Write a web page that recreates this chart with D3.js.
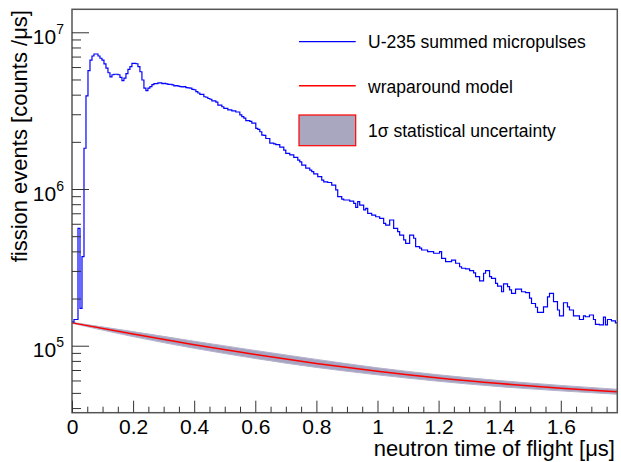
<!DOCTYPE html>
<html>
<head>
<meta charset="utf-8">
<script src="https://cdn.jsdelivr.net/npm/d3@7"></script>
<style>
  html, body { margin: 0; padding: 0; background: #fff; }
  svg { display: block; font-family: "Liberation Sans", Arial, Helvetica, sans-serif; }
</style>
</head>
<body>
<svg id="chart" width="621" height="462"></svg>
<script>
// ---------------- DATA ----------------
// Histogram: U-235 summed micropulses, counts/µs per bin (bin width in µs)
const binWidth = 0.00654;
const counts = [
  1.42e5, 1.47e5, 1.47e5, 5.6e5, 1.73e5, 3.7e5, 1.82e6, 3.93e6, 5.69e6, 6.65e6,
  7.06e6, 7.27e6, 7.27e6, 7.06e6, 6.83e6, 6.65e6, 6.28e6, 5.9e6, 5.52e6, 5.2e6,
  5.36e6, 5.4e6, 5.4e6, 5.36e6, 5.15e6, 4.91e6, 5.1e6, 5.45e6, 5.8e6, 6.03e6,
  6.34e6, 6.34e6, 6.3e6, 6.03e6, 5.6e6, 4.96e6, 4.4e6, 4.24e6, 4.4e6, 4.5e6,
  4.63e6, 4.7e6, 4.7e6, 4.75e6, 4.75e6, 4.7e6, 4.72e6, 4.68e6, 4.65e6, 4.66e6,
  4.62e6, 4.55e6, 4.57e6, 4.53e6, 4.5e6, 4.48e6, 4.5e6, 4.43e6, 4.42e6, 4.4e6,
  4.32e6, 4.3e6, 4.18e6, 4.1e6, 4.02e6, 4.02e6, 3.88e6, 3.85e6, 3.78e6, 3.74e6,
  3.65e6, 3.65e6, 3.58e6, 3.43e6, 3.43e6, 3.35e6, 3.27e6, 3.27e6, 3.2e6, 3.2e6,
  3.15e6, 3.15e6, 3.1e6, 3.1e6, 2.97e6, 2.9e6, 2.83e6, 2.73e6, 2.73e6, 2.7e6,
  2.63e6, 2.63e6, 2.44e6, 2.4e6, 2.32e6, 2.21e6, 2.2e6, 2.1e6, 2.1e6, 1.96e6,
  1.96e6, 1.94e6, 1.92e6, 1.92e6, 1.85e6, 1.85e6, 1.77e6, 1.69e6, 1.69e6, 1.65e6,
  1.65e6, 1.59e6, 1.59e6, 1.53e6, 1.49e6, 1.42e6, 1.42e6, 1.36e6, 1.36e6, 1.32e6,
  1.29e6, 1.25e6, 1.25e6, 1.2e6, 1.2e6, 1.14e6, 1.11e6, 1.11e6, 1.1e6, 1.1e6,
  1.06e6, 1.06e6, 9.86e5, 8.93e5, 8.93e5, 8.63e5, 8.51e5, 8.51e5, 8.51e5, 8.38e5,
  8.38e5, 8.1e5, 7.64e5, 8.3e5, 7.9e5, 7.9e5, 7.35e5, 7.53e5, 7.0e5, 7.0e5,
  6.82e5, 6.82e5, 6.65e5, 6.65e5, 6.5e5, 6.5e5, 6.04e5, 5.89e5, 5.89e5, 6.34e5,
  6.34e5, 5.61e5, 5.61e5, 5.34e5, 5.08e5, 5.08e5, 4.73e5, 4.5e5, 4.5e5, 5.08e5,
  5.08e5, 4.85e5, 4.29e5, 4.29e5, 4.19e5, 4.08e5, 4.08e5, 4.08e5, 3.98e5, 3.98e5,
  3.98e5, 3.89e5, 3.89e5, 3.89e5, 3.98e5, 3.61e5, 3.61e5, 3.44e5, 3.44e5, 3.44e5,
  3.52e5, 3.52e5, 3.36e5, 3.36e5, 3.19e5, 3.12e5, 3.12e5, 3.09e5, 3.09e5, 3.01e5,
  3.01e5, 2.92e5, 2.76e5, 2.76e5, 2.59e5, 2.59e5, 2.9e5, 3.01e5, 3.01e5, 2.76e5,
  2.69e5, 2.69e5, 2.5e5, 2.4e5, 2.4e5, 2.21e5, 2.48e5, 2.48e5, 2.38e5, 2.27e5,
  2.16e5, 2.16e5, 2.3e5, 2.3e5, 2.3e5, 2.21e5, 2.21e5, 2.18e5, 2.18e5, 2.01e5,
  1.86e5, 1.86e5, 1.76e5, 1.63e5, 1.63e5, 1.63e5, 1.77e5, 1.77e5, 2.05e5, 2.16e5,
  2.16e5, 1.91e5, 1.91e5, 1.69e5, 1.55e5, 1.55e5, 1.88e5, 1.88e5, 1.77e5, 1.69e5,
  1.69e5, 1.55e5, 1.55e5, 1.55e5, 1.47e5, 1.47e5, 1.55e5, 1.53e5, 1.53e5, 1.57e5,
  1.57e5, 1.47e5, 1.37e5, 1.37e5, 1.36e5, 1.36e5, 1.52e5, 1.36e5, 1.47e5, 1.47e5,
  1.44e5, 1.44e5, 1.40e5
];

// Wraparound model and its 1σ band (µs, counts/µs)
const modelT     = [0, 0.2, 0.4, 0.6, 0.8, 1.0, 1.2, 1.4, 1.6, 1.785];
const modelVal   = [1.40e5, 1.186e5, 1.014e5, 8.79e4, 7.71e4, 6.87e4, 6.22e4, 5.73e4, 5.36e4, 5.08e4];
const bandLow    = [1.39e5, 1.143e5, 9.63e4, 8.29e4, 7.27e4, 6.52e4, 5.93e4, 5.48e4, 5.15e4, 4.90e4];
const bandHigh   = [1.41e5, 1.230e5, 1.068e5, 9.32e4, 8.18e4, 7.23e4, 6.52e4, 5.99e4, 5.58e4, 5.27e4];

// Axes
const xDomain = [0, 1.785];
const yDomain = [3.737e4, 1.402e7];
const xMajor = [0, 0.2, 0.4, 0.6, 0.8, 1.0, 1.2, 1.4, 1.6];
const xTickLabels = ["0", "0.2", "0.4", "0.6", "0.8", "1", "1.2", "1.4", "1.6"];
const yMajor = [1e5, 1e6, 1e7];
const yExponents = ["5", "6", "7"];

const legendLabels = ["U-235 summed micropulses", "wraparound model", "1\u03C3 statistical uncertainty"];
const xTitle = "neutron time of flight [\u03BCs]";
const yTitle = "fission events [counts /\u03BCs]";

// ---------------- LAYOUT ----------------
const frame = { left: 72, right: 617.3, top: 9.3, bottom: 412.7 };
const svg = d3.select("#chart");

const x = d3.scaleLinear().domain(xDomain).range([frame.left, frame.right]);
const y = d3.scaleLog().domain(yDomain).range([frame.bottom, frame.top]);

svg.append("defs").append("clipPath").attr("id", "clip")
  .append("rect")
  .attr("x", frame.left).attr("y", frame.top)
  .attr("width", frame.right - frame.left).attr("height", frame.bottom - frame.top);

const plot = svg.append("g").attr("clip-path", "url(#clip)");

// band
const bandData = modelT.map((t, i) => ({ t, lo: bandLow[i], hi: bandHigh[i], v: modelVal[i] }));
plot.append("path")
  .datum(bandData)
  .attr("fill", "#a6a4c0")
  .attr("stroke", "#b4b2cc")
  .attr("stroke-width", 1)
  .attr("d", d3.area()
    .curve(d3.curveMonotoneX)
    .x(d => x(d.t)).y0(d => y(d.lo)).y1(d => y(d.hi)));

// model line
plot.append("path")
  .datum(bandData)
  .attr("fill", "none")
  .attr("stroke", "#ff0000")
  .attr("stroke-width", 1.5)
  .attr("d", d3.line().curve(d3.curveMonotoneX).x(d => x(d.t)).y(d => y(d.v)));

// histogram (step outline)
const steps = [];
counts.forEach((c, i) => {
  steps.push([i * binWidth, c]);
  steps.push([(i + 1) * binWidth, c]);
});
plot.append("path")
  .datum(steps)
  .attr("fill", "none")
  .attr("stroke", "#0000ff")
  .attr("stroke-width", 1.2)
  .attr("d", d3.line().x(d => x(d[0])).y(d => y(d[1])));

// ---------------- AXES ----------------
const axisColor = "#333";
// frame
svg.append("rect")
  .attr("x", frame.left).attr("y", frame.top)
  .attr("width", frame.right - frame.left).attr("height", frame.bottom - frame.top)
  .attr("fill", "none").attr("stroke", "#555").attr("stroke-width", 1.5);

// x minor ticks
const xMinor = d3.range(0, 36).map(k => k * 0.05).filter(v => v <= xDomain[1] && Math.abs(v / 0.2 - Math.round(v / 0.2)) > 1e-6);
const gxm = svg.append("g").attr("transform", `translate(0,${frame.bottom})`)
  .call(d3.axisBottom(x).tickValues(xMinor).tickSize(-6).tickFormat(""));
gxm.select(".domain").remove();
gxm.selectAll("line").attr("stroke", axisColor);

const gx = svg.append("g").attr("transform", `translate(0,${frame.bottom})`)
  .call(d3.axisBottom(x).tickValues(xMajor).tickSize(-12).tickPadding(6.4)
    .tickFormat((d, i) => xTickLabels[i]));
gx.select(".domain").remove();
gx.selectAll("line").attr("stroke", axisColor);
gx.selectAll("text").attr("font-size", 21).attr("fill", "#000")
  .attr("font-family", "'Liberation Sans', Arial, sans-serif");

// y minor ticks
const yMinor = [];
for (let e = 4; e <= 7; e++) for (let m = 2; m <= 9; m++) {
  const v = m * Math.pow(10, e);
  if (v >= yDomain[0] && v <= yDomain[1]) yMinor.push(v);
}
const gym = svg.append("g").attr("transform", `translate(${frame.left},0)`)
  .call(d3.axisLeft(y).tickValues(yMinor).tickSize(-9).tickFormat(""));
gym.select(".domain").remove();
gym.selectAll("line").attr("stroke", axisColor);

const gy = svg.append("g").attr("transform", `translate(${frame.left},0)`)
  .call(d3.axisLeft(y).tickValues(yMajor).tickSize(-17).tickFormat(""));
gy.select(".domain").remove();
gy.selectAll("line").attr("stroke", axisColor);
gy.selectAll(".tick").each(function (d, i) {
  const t = d3.select(this).select("text");
  t.attr("x", -8).attr("dy", null).attr("y", 11)
    .attr("text-anchor", "end").attr("fill", "#000")
    .attr("font-family", "'Liberation Sans', Arial, sans-serif");
  t.append("tspan").attr("font-size", 21).text("10");
  t.append("tspan").attr("font-size", 14).attr("dy", -10).text(yExponents[i]);
});

// axis titles
svg.append("text")
  .attr("x", 615).attr("y", 456)
  .attr("text-anchor", "end").attr("font-size", 22).attr("fill", "#000")
  .text(xTitle);
svg.append("text")
  .attr("transform", "translate(27,10) rotate(-90)")
  .attr("text-anchor", "end").attr("font-size", 22).attr("fill", "#000")
  .text(yTitle);

// ---------------- LEGEND ----------------
const lg = svg.append("g");
const lx0 = 299, lx1 = 355.7, ltx = 368;
lg.append("line").attr("x1", lx0).attr("x2", lx1).attr("y1", 41.7).attr("y2", 41.7)
  .attr("stroke", "#0000ff").attr("stroke-width", 1.2);
lg.append("text").attr("x", ltx).attr("y", 47.5).attr("font-size", 17.5).text(legendLabels[0]);
lg.append("line").attr("x1", lx0).attr("x2", lx1).attr("y1", 85.7).attr("y2", 85.7)
  .attr("stroke", "#ff0000").attr("stroke-width", 1.5);
lg.append("text").attr("x", ltx).attr("y", 92.5).attr("font-size", 17.5).text(legendLabels[1]);
lg.append("rect").attr("x", lx0).attr("y", 115).attr("width", lx1 - lx0).attr("height", 30.7)
  .attr("fill", "#a9a7c0").attr("stroke", "#ff0000").attr("stroke-width", 1.2);
lg.append("text").attr("x", ltx).attr("y", 136.7).attr("font-size", 17.5).text(legendLabels[2]);
</script>
</body>
</html>
